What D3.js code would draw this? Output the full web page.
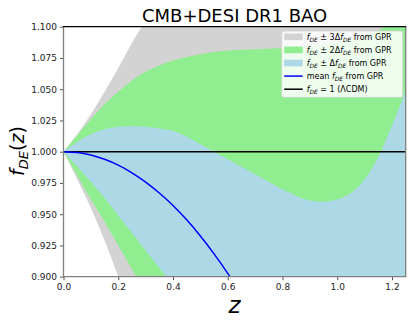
<!DOCTYPE html>
<html>
<head>
<meta charset="utf-8">
<script src="https://cdn.jsdelivr.net/npm/d3@7"></script>
<style>
  body { margin: 0; background: white; }
  svg { font-family: "DejaVu Sans", sans-serif; }
</style>
</head>
<body>
<div class="chart"></div>
<script>
// redshift grid the bands were read at
const zGrid = [0, 0.05, 0.1, 0.15, 0.2, 0.25, 0.3, 0.35, 0.4, 0.5, 0.6, 0.7, 0.8, 0.9, 0.95, 1.0, 1.05, 1.1, 1.15, 1.2, 1.25];

// 3 sigma band (grey)
const upper3 = [1.0, 1.014, 1.03, 1.048, 1.067, 1.087, 1.105, 1.123, 1.141, 1.18, 1.22, 1.26, 1.3, 1.34, 1.36, 1.38, 1.4, 1.42, 1.44, 1.46, 1.48];
const lower3 = [1.0, 0.978, 0.955, 0.929, 0.9, 0.87, 0.84, 0.81, 0.78, 0.72, 0.66, 0.6, 0.55, 0.5, 0.48, 0.46, 0.44, 0.42, 0.4, 0.38, 0.36];
// 2 sigma band (green)
const upper2 = [1.0, 1.013, 1.026, 1.038, 1.048, 1.057, 1.064, 1.069, 1.073, 1.078, 1.081, 1.082, 1.083, 1.085, 1.086, 1.088, 1.090, 1.093, 1.097, 1.103, 1.11];
const lower2 = [1.0, 0.981, 0.962, 0.944, 0.925, 0.906, 0.887, 0.868, 0.85, 0.81, 0.77, 0.73, 0.7, 0.67, 0.66, 0.65, 0.64, 0.63, 0.62, 0.61, 0.6];
// 1 sigma band (blue)
const upper1 = [1.0, 1.008, 1.014, 1.018, 1.020, 1.0205, 1.020, 1.0185, 1.0165, 1.006, 0.994, 0.982, 0.970, 0.961, 0.960, 0.962, 0.967, 0.978, 0.996, 1.021, 1.049];
const lower1 = [1.0, 0.988, 0.976, 0.963, 0.949, 0.935, 0.921, 0.907, 0.893, 0.865, 0.835, 0.805, 0.775, 0.745, 0.73, 0.715, 0.7, 0.685, 0.67, 0.655, 0.64];

// mean reconstruction
const meanZ = [0, 0.05, 0.1, 0.15, 0.2, 0.25, 0.3, 0.35, 0.4, 0.45, 0.5, 0.55, 0.6, 0.65];
const meanF = [1.0, 0.9993, 0.9973, 0.9939, 0.9892, 0.9831, 0.9757, 0.967, 0.957, 0.9455, 0.9326, 0.9183, 0.9027, 0.886];

const xTicks = [0, 0.2, 0.4, 0.6, 0.8, 1.0, 1.2];
const yTicks = [0.9, 0.925, 0.95, 0.975, 1.0, 1.025, 1.05, 1.075, 1.1];

var margin = {top: 26.7, right: 7.3, bottom: 48.3, left: 63.5};
var width = 413 - margin.left - margin.right,
    height = 325 - margin.top - margin.bottom;

const root = d3.select(".chart").append("svg")
    .attr("width", 413)
    .attr("height", 325);

const svg = root.append("g")
    .attr("transform", "translate(" + margin.left + "," + margin.top + ")");

const xScale = d3.scaleLinear().domain([0, 1.25]).range([0, width]);
const yScale = d3.scaleLinear().domain([0.9, 1.1]).range([height, 0]);

svg.append("clipPath").attr("id", "plotclip")
    .append("rect").attr("width", width).attr("height", height);

const plot = svg.append("g").attr("clip-path", "url(#plotclip)");

function band(up, lo) {
    return zGrid.map((z, i) => ({z: z, hi: up[i], lo: lo[i]}));
}

const area = d3.area()
    .x(d => xScale(d.z))
    .y0(d => yScale(d.lo))
    .y1(d => yScale(d.hi))
    .curve(d3.curveMonotoneX);

const bands = [
    {data: band(upper3, lower3), color: "#d3d3d3"},
    {data: band(upper2, lower2), color: "#90ee90"},
    {data: band(upper1, lower1), color: "#add8e6"}
];

plot.selectAll(".band")
    .data(bands)
    .enter()
    .append("path")
    .attr("class", "band")
    .attr("d", d => area(d.data))
    .style("fill", d => d.color);

// LCDM reference
plot.append("line")
    .attr("x1", 0).attr("x2", width)
    .attr("y1", yScale(1)).attr("y2", yScale(1))
    .style("stroke", "black")
    .style("stroke-width", 1.5);

const line = d3.line()
    .x((d, i) => xScale(meanZ[i]))
    .y(d => yScale(d))
    .curve(d3.curveNatural);

plot.append("path")
    .datum(meanF)
    .attr("d", line)
    .style("fill", "none")
    .style("stroke", "#0000ff")
    .style("stroke-width", 1.5);

const xAxis = d3.axisBottom(xScale)
    .tickValues(xTicks)
    .tickSize(3.5)
    .tickPadding(3)
    .tickFormat(d3.format(".1f"));

const yAxis = d3.axisLeft(yScale)
    .tickValues(yTicks)
    .tickSize(3.5)
    .tickPadding(3)
    .tickFormat(d3.format(".3f"));

svg.append("g")
    .attr("class", "axis x-axis")
    .attr("transform", `translate(0, ${height})`)
    .call(xAxis)
    .call(g => g.select(".domain").remove());

svg.append("g")
    .attr("class", "axis y-axis")
    .call(yAxis)
    .call(g => g.select(".domain").remove());

svg.selectAll(".axis text")
    .style("font-size", "9px")
    .style("font-family", "DejaVu Sans")
    .style("fill", "#222");
svg.selectAll(".axis .tick line")
    .style("stroke", "#555");

// spines: grey box, black top
svg.append("path")
    .attr("d", `M0,0 V${height} H${width} V0`)
    .style("fill", "none")
    .style("stroke", "#808080")
    .style("stroke-width", 1.3);
svg.append("line")
    .attr("x1", -0.5).attr("x2", width + 0.5)
    .attr("y1", 0).attr("y2", 0)
    .style("stroke", "black")
    .style("stroke-width", 1.3);

// title and axis labels
root.append("text")
    .attr("x", margin.left + width / 2)
    .attr("y", 21.5)
    .attr("text-anchor", "middle")
    .style("font-size", "18px")
    .text("CMB+DESI DR1 BAO");

root.append("text")
    .attr("x", margin.left + width / 2)
    .attr("y", 312.5)
    .attr("text-anchor", "middle")
    .style("font-size", "23px")
    .style("font-style", "italic")
    .text("z");

const ylab = root.append("text")
    .attr("transform", "translate(23.5,151) rotate(-90)")
    .attr("text-anchor", "middle")
    .style("font-size", "19px");
ylab.append("tspan").style("font-style", "italic").text("f");
ylab.append("tspan").style("font-style", "italic").style("font-size", "13px").attr("dy", 4).text("DE");
ylab.append("tspan").attr("dy", -4).text("(");
ylab.append("tspan").style("font-style", "italic").text("z");
ylab.append("tspan").text(")");

// legend
const legendItems = [
    {type: "patch", color: "#d3d3d3", pre: " \u00b1 3\u0394", post: " from GPR"},
    {type: "patch", color: "#90ee90", pre: " \u00b1 2\u0394", post: " from GPR"},
    {type: "patch", color: "#add8e6", pre: " \u00b1 \u0394", post: " from GPR"},
    {type: "line", color: "#0000ff", label: "mean "},
    {type: "line", color: "black", label: "lcdm"}
];

const legend = root.append("g").attr("transform", "translate(281.7,31)");
legend.append("rect")
    .attr("width", 121).attr("height", 66.3)
    .attr("rx", 2)
    .style("fill", "white")
    .style("fill-opacity", 0.85)
    .style("stroke", "#d0d0d0")
    .style("stroke-width", 0.8);

function fDE(t) {
    t.append("tspan").style("font-style", "italic").text("f");
    t.append("tspan").style("font-style", "italic").style("font-size", "5.9px").attr("dy", 1.8).text("DE");
}

legendItems.forEach((d, i) => {
    const y = 5.8 + i * 13.1;
    const g = legend.append("g").attr("transform", `translate(0,${y})`);
    if (d.type === "patch") {
        g.append("rect").attr("x", 2.5).attr("y", -3.3).attr("width", 18.5).attr("height", 6.6)
            .style("fill", d.color);
    } else {
        g.append("line").attr("x1", 2.5).attr("x2", 21).attr("y1", 0).attr("y2", 0)
            .style("stroke", d.color).style("stroke-width", 1.5);
    }
    const t = g.append("text").attr("x", 25).attr("y", 2.9).style("font-size", "8px");
    if (d.type === "patch") {
        fDE(t);
        t.append("tspan").attr("dy", -1.8).text(d.pre);
        fDE(t);
        t.append("tspan").attr("dy", -1.8).text(d.post);
    } else if (d.label === "mean ") {
        t.append("tspan").text("mean ");
        fDE(t);
        t.append("tspan").attr("dy", -1.8).text(" from GPR");
    } else {
        fDE(t);
        t.append("tspan").attr("dy", -1.8).text(" = 1 (\u039bCDM)");
    }
});
</script>
</body>
</html>
